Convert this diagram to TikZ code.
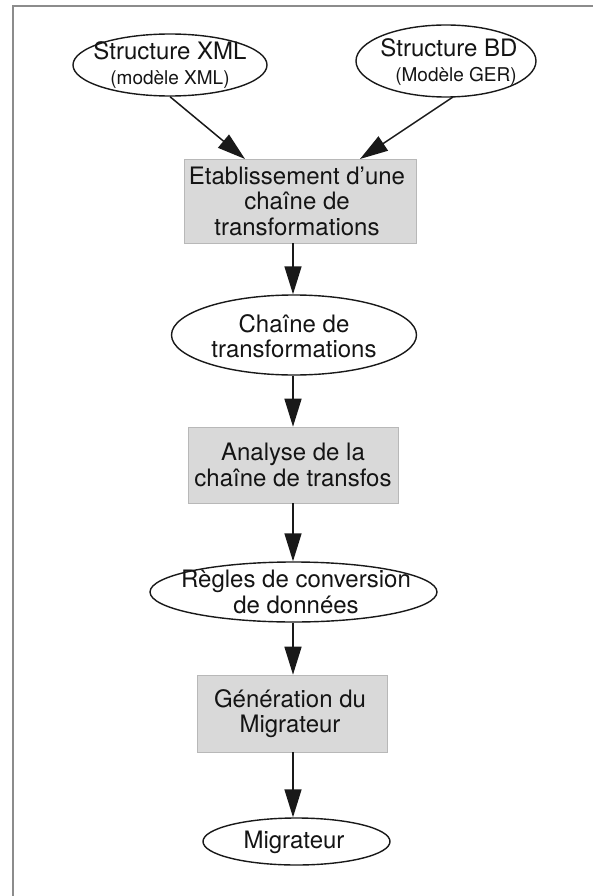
\documentclass[tikz,border=0pt]{standalone}
\usepackage{fontspec}
\setmainfont{TeX Gyre Heros}
\usetikzlibrary{arrows.meta,shapes.geometric}
\begin{document}
\begin{tikzpicture}[x=1pt,y=-1pt,
  ell/.style={ellipse, draw=black!90, line width=1.4pt, inner sep=0pt},
  procbox/.style={rectangle, fill=black!15, draw=black!28, line width=0.6pt, inner sep=0pt},
  lbl/.style={align=center, inner sep=0pt, text=black!92, font=\fontsize{24}{25.5}\selectfont},
  arr/.style={draw=black!90, line width=1.5pt, -{Triangle[length=28pt,width=17pt]}},
  frame/.style={draw=black!45, line width=1.3pt}
]
\useasboundingbox (0,0) rectangle (593,896);
% frame (top and left sides visible)
\coordinate (ftr) at (593,6);
\coordinate (ftl) at (13,6);
\coordinate (fbl) at (13,896);
\draw[frame] (ftr) -- (ftl) -- (fbl);

% top ellipses
\node[ell, minimum width=194pt, minimum height=62pt] (xml) at (170,65) {};
\node[lbl] (xmlt) at (170,65) {{\fontsize{24}{26}\selectfont Structure XML}\\[-1pt]{\fontsize{19}{22}\selectfont (modèle XML)}};
\node[ell, minimum width=180pt, minimum height=72pt] (bd) at (446,61) {};
\node[lbl] (bdt) at (449,62) {{\fontsize{24}{26}\selectfont Structure BD}\\[-1pt]{\fontsize{19}{22}\selectfont \hspace*{14pt}(Modèle GER)}};

% box 1
\node[procbox, minimum width=232pt, minimum height=84pt] (b1) at (300,201) {};
\node[lbl] (b1t) at (297,201) {Etablissement d’une\\chaîne de\\transformations};

% chain ellipse
\node[ell, minimum width=245pt, minimum height=80pt] (ch) at (294,335) {};
\node[lbl] (cht) at (294,336) {Chaîne de\\transformations};

% box 2
\node[procbox, minimum width=210pt, minimum height=76pt] (b2) at (293,465) {};
\node[lbl] (b2t) at (293,465) {Analyse de la\\chaîne de transfos};

% rules ellipse
\node[ell, minimum width=287pt, minimum height=60pt] (rg) at (293.5,592) {};
\node[lbl] (rgt) at (296,592) {Règles de conversion\\de données};

% box 3
\node[procbox, minimum width=190pt, minimum height=77pt] (b3) at (292,713.5) {};
\node[lbl] (b3t) at (290,713.5) {Génération du\\Migrateur};

% migrateur ellipse
\node[ell, minimum width=187pt, minimum height=47pt] (mg) at (296.5,841.5) {};
\node[lbl] (mgt) at (294,842) {Migrateur};

% connectors
\coordinate (in1) at (245,159);
\coordinate (in2) at (360,159);
\coordinate (ax) at (293,0);
\coordinate (bds) at (453,97);
\draw[arr] (xml.south) -- (in1);
\draw[arr] (bds) -- (in2);
\draw[arr] (b1.south -| ax) -- (ch.north -| ax);
\draw[arr] (ch.south -| ax) -- (b2.north -| ax);
\draw[arr] (b2.south -| ax) -- (rg.north -| ax);
\draw[arr] (rg.south -| ax) -- (b3.north -| ax);
\draw[arr] (b3.south -| ax) -- (mg.north -| ax);
\end{tikzpicture}
\end{document}
